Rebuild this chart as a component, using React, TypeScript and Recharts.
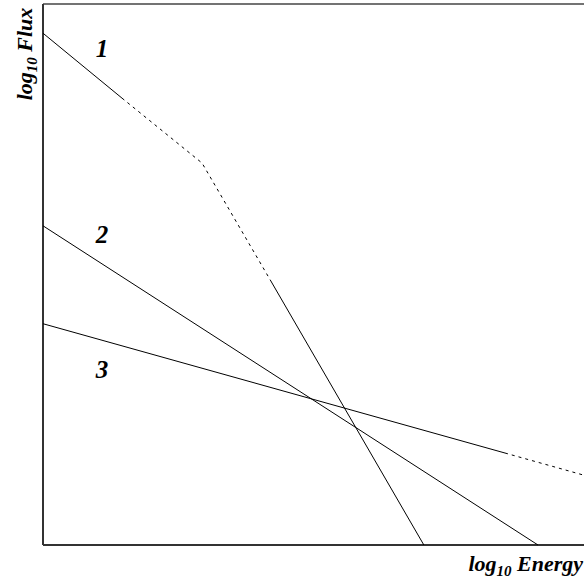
import {
  LineChart,
  Line,
  XAxis,
  YAxis,
  ReferenceLine,
  ReferenceDot,
} from "recharts";

// axes are in arbitrary log units, 0..10 on both
const line1Solid = [
  { x: 0, y: 9.46 },
  { x: 1.46, y: 8.26 },
];
const line1Dashed = [
  { x: 1.46, y: 8.26 },
  { x: 2.94, y: 7.06 },
  { x: 4.2, y: 4.9 },
];
const line1Tail = [
  { x: 4.2, y: 4.9 },
  { x: 7.04, y: 0 },
];
const line2 = [
  { x: 0, y: 5.9 },
  { x: 9.15, y: 0 },
];
const line3Solid = [
  { x: 0, y: 4.09 },
  { x: 8.54, y: 1.7 },
];
const line3Dashed = [
  { x: 8.54, y: 1.7 },
  { x: 10, y: 1.29 },
];

const curveLabels = [
  { name: "1", x: 1.09, y: 9.19 },
  { name: "2", x: 1.09, y: 5.75 },
  { name: "3", x: 1.09, y: 3.25 },
];

const SERIF = "'Liberation Serif', 'DejaVu Serif', serif";

export default function App() {
  return (
    <div style={{ position: "absolute", left: 0, top: 0, width: 584, height: 579, background: "#fff" }}>
      <LineChart
        width={584}
        height={579}
        margin={{ top: 4, right: 0, left: 43, bottom: 34 }}
      >
        <XAxis type="number" dataKey="x" domain={[0, 10]} hide allowDuplicatedCategory={false} />
        <YAxis type="number" dataKey="y" domain={[0, 10]} hide />

        <ReferenceLine y={10} stroke="#444" strokeWidth={1.5} />
        <ReferenceLine x={0} stroke="#333" strokeWidth={2} />
        <ReferenceLine y={0} stroke="#333" strokeWidth={2} />

        <Line data={line1Solid} dataKey="y" stroke="#000" strokeWidth={1} dot={false} isAnimationActive={false} />
        <Line data={line1Dashed} dataKey="y" stroke="#000" strokeWidth={1} strokeDasharray="3 4" dot={false} isAnimationActive={false} />
        <Line data={line1Tail} dataKey="y" stroke="#000" strokeWidth={1} dot={false} isAnimationActive={false} />
        <Line data={line2} dataKey="y" stroke="#000" strokeWidth={1} dot={false} isAnimationActive={false} />
        <Line data={line3Solid} dataKey="y" stroke="#000" strokeWidth={1} dot={false} isAnimationActive={false} />
        <Line data={line3Dashed} dataKey="y" stroke="#000" strokeWidth={1} strokeDasharray="3 4" dot={false} isAnimationActive={false} />

        {curveLabels.map((c) => (
          <ReferenceDot
            key={c.name}
            x={c.x}
            y={c.y}
            r={1}
            fill="none"
            stroke="none"
            label={{
              value: c.name,
              position: "center",
              fill: "#000",
              fontSize: 25,
              fontWeight: 700,
              fontStyle: "italic",
              fontFamily: SERIF,
            }}
          />
        ))}
      </LineChart>

      <svg
        width={584}
        height={579}
        style={{ position: "absolute", left: 0, top: 0, pointerEvents: "none" }}
      >
        <text
          transform="translate(32, 54) rotate(-90)"
          textAnchor="middle"
          fontFamily={SERIF}
          fontWeight={700}
          fontStyle="italic"
          fontSize={22}
          fill="#000"
        >
          log
          <tspan fontSize={15} dy={5}>10</tspan>
          <tspan dy={-5}> Flux</tspan>
        </text>
        <text
          x={583}
          y={571}
          textAnchor="end"
          fontFamily={SERIF}
          fontWeight={700}
          fontStyle="italic"
          fontSize={22}
          fill="#000"
        >
          log
          <tspan fontSize={15} dy={5}>10</tspan>
          <tspan dy={-5}> Energy</tspan>
        </text>
      </svg>
    </div>
  );
}
